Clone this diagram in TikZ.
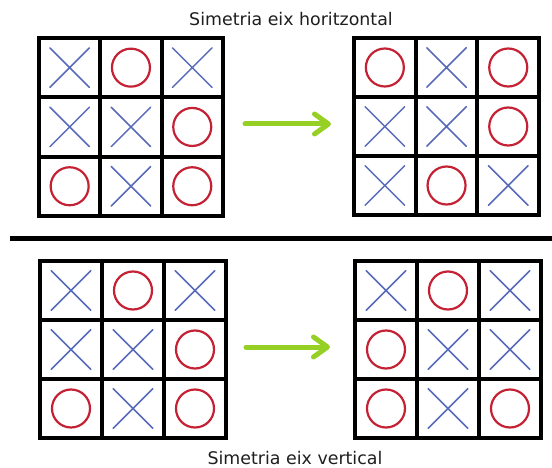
\documentclass[tikz,border=0pt]{standalone}
\usepackage{fontspec}
\setmainfont{DejaVu Sans}
\usetikzlibrary{arrows.meta,shapes.misc}

\definecolor{xblue}{RGB}{88,106,186}
\definecolor{ored}{RGB}{196,34,52}
\definecolor{arrowgreen}{RGB}{150,208,36}
\definecolor{inkgray}{RGB}{30,30,30}

\tikzset{
  cell/.style={draw=black, line width=4pt, inner sep=0pt, outer sep=0pt},
  xm/.style={cross out, draw=xblue, line width=1.5pt, line cap=round,
             minimum size=38pt, inner sep=0pt},
  om/.style={circle, draw=ored, line width=2.2pt, minimum size=38pt, inner sep=0pt},
  title/.style={font=\fontsize{17.4}{20}\selectfont, text=inkgray, inner sep=0pt},
  mapsto/.style={draw=arrowgreen, line width=5pt, line cap=round,
    -{Straight Barb[length=14pt,width=20pt,line cap=round,line join=round]}},
  divider/.style={draw=black, line width=5pt},
}

% #1 name, #2 left, #3 top, #4 cell width, #5 cell height, #6 nine marks row by row
\newcommand\tttboard[6]{%
  \foreach \s [count=\k from 0] in {#6} {%
    \pgfmathtruncatemacro\r{div(\k,3)}%
    \pgfmathtruncatemacro\c{mod(\k,3)}%
    \node[cell, minimum width=#4pt, minimum height=#5pt] (#1-\r-\c)
      at ({#2+(\c+0.5)*#4},{#3+(\r+0.5)*#5}) {};
    \node[\s] (#1-\r-\c-m) at (#1-\r-\c) {};
  }%
}

\begin{document}
\begin{tikzpicture}[x=1pt, y=-1pt]
  \useasboundingbox (0,0) rectangle (552,468);

  \node[title, anchor=base] (toptitle) at (291,26) {Simetria eix horitzontal};
  \node[title, anchor=base] (bottitle) at (295,464) {Simetria eix vertical};

  % horizontal-axis symmetry
  \tttboard{tl}{39}{38}{61.3}{59.3}{xm,om,xm, xm,xm,om, om,xm,om}
  \tttboard{tr}{354}{38}{61.7}{59}{om,xm,om, xm,xm,om, xm,om,xm}
  \coordinate (a1s) at (245,124);
  \coordinate (a1e) at (331,124);
  \draw[mapsto] (a1s) -- (a1e);

  % separator
  \coordinate (divL) at (10,238.5);
  \coordinate (divR) at (552,238.5);
  \draw[divider] (divL) -- (divR);

  % vertical-axis symmetry
  \tttboard{bl}{40}{261}{62}{59}{xm,om,xm, xm,xm,om, om,xm,om}
  \tttboard{br}{355}{261}{62}{59}{xm,om,xm, om,xm,xm, om,xm,om}
  \coordinate (a2s) at (246,347);
  \coordinate (a2e) at (330,347);
  \draw[mapsto] (a2s) -- (a2e);
\end{tikzpicture}
\end{document}
